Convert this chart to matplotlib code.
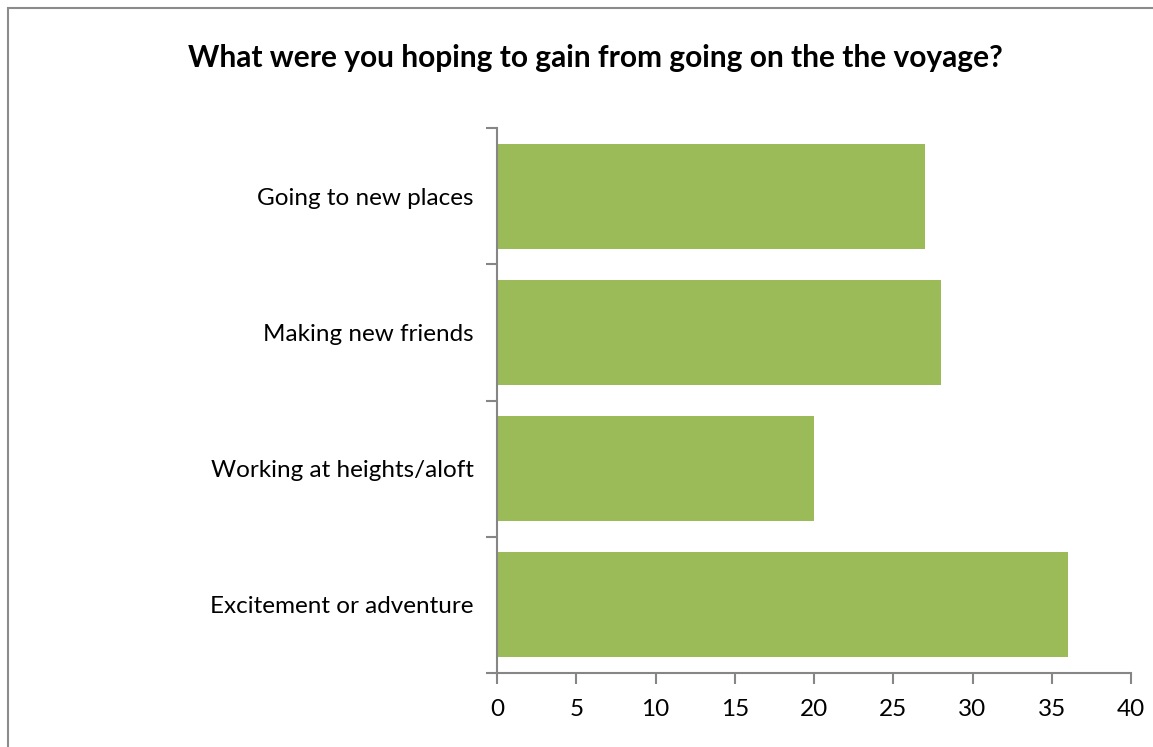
import matplotlib.pyplot as plt
from matplotlib.patches import Rectangle

plt.rcParams['font.family'] = ['Lato', 'DejaVu Sans']

# Survey answers, bottom to top
categories = ["Excitement or adventure", "Working at heights/aloft",
              "Making new friends", "Going to new places"]
counts = [36, 20, 28, 27]
x_ticks = [0, 5, 10, 15, 20, 25, 30, 35, 40]

bar_color = '#9BBB59'
axis_gray = '#868686'

fig = plt.figure(figsize=(11.53, 7.47), dpi=100)

# Chart-area frame (runs off the right and bottom edges)
fig.patches.append(Rectangle((7.5 / 1153, -0.1), 1.2, 1.1 - 8.5 / 747,
                             transform=fig.transFigure, fill=False,
                             edgecolor='#8c8c8c', linewidth=1.5))

ax = fig.add_axes([497 / 1153, 1 - 673 / 747, (1131 - 497) / 1153, (673 - 128) / 747])

pos = list(range(len(categories)))
ax.barh(pos, counts, height=0.77, color=bar_color, zorder=2)

ax.set_xlim(0, 40)
ax.set_ylim(-0.5, len(categories) - 0.5)
ax.set_xticks(x_ticks)
ax.set_xticklabels([str(t) for t in x_ticks], fontsize=17.5)

# Category boundaries get the tick marks, centres get the labels
ax.set_yticks([p - 0.5 for p in range(len(categories) + 1)])
ax.set_yticklabels([])
ax.set_yticks(pos, minor=True)
ax.set_yticklabels(categories, minor=True, fontsize=17.5)
ax.tick_params(axis='y', which='minor', length=0, pad=17)
ax.tick_params(axis='y', which='major', length=8, width=1.5, color=axis_gray)
ax.tick_params(axis='x', length=8, width=1.5, color=axis_gray, pad=11)

for side in ['top', 'right']:
    ax.spines[side].set_visible(False)
for side in ['left', 'bottom']:
    ax.spines[side].set_color(axis_gray)
    ax.spines[side].set_linewidth(1.5)

fig.text(0.516, 1 - 58 / 747, "What were you hoping to gain from going on the the voyage?",
         ha='center', va='center', fontsize=21.5, fontweight='bold')

fig.savefig('out.png', dpi=100)
